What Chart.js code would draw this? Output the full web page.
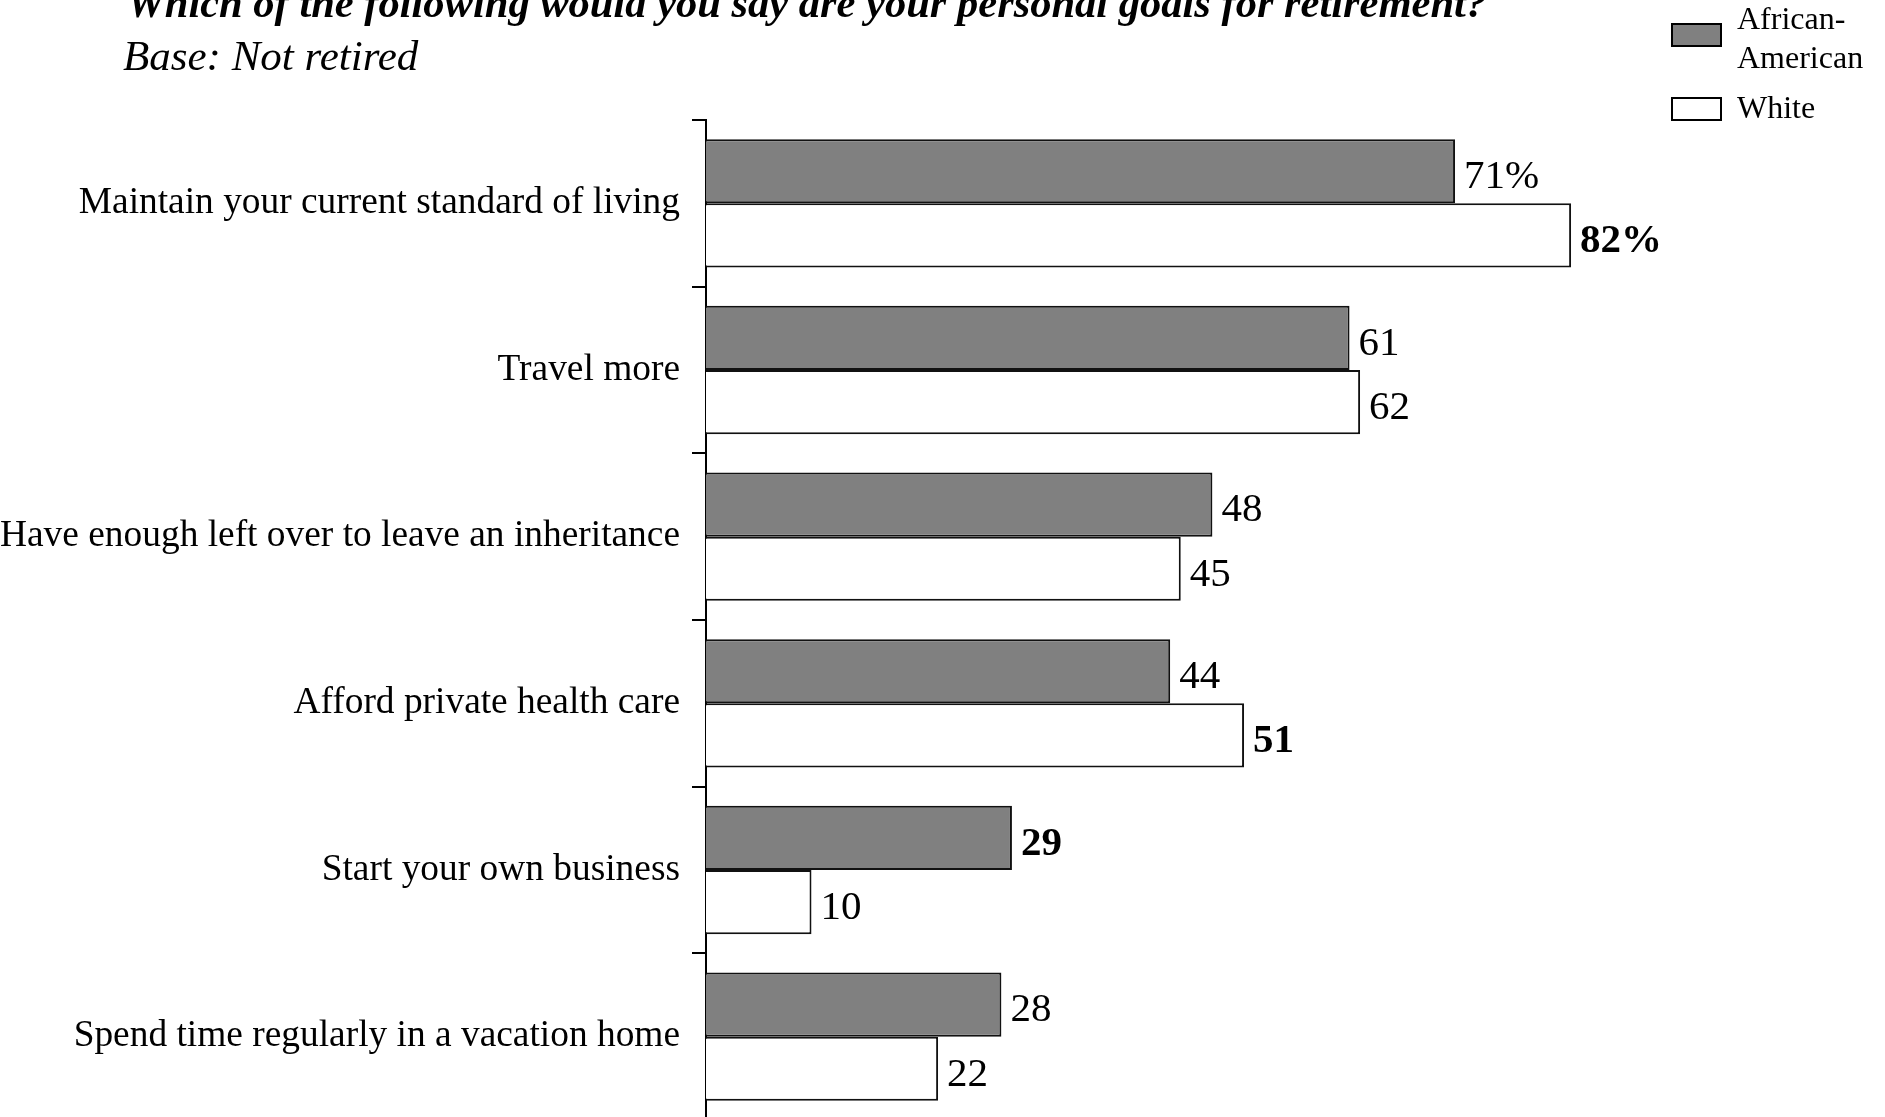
<!DOCTYPE html>
<html>
<head>
<meta charset="utf-8">
<script src="https://cdn.jsdelivr.net/npm/chart.js"></script>
<style>
    html, body { margin: 0; padding: 0; background: #fff; overflow: hidden; }
    #wrap { position: relative; width: 1885px; height: 1117px; overflow: hidden; }
    #goalsChart { position: absolute; left: 0; top: 0; }
    .txt { position: absolute; font-family: "Liberation Serif", "Times New Roman", serif; white-space: nowrap; color: #000; }
    .title { left: 127px; font-size: 42.5px; line-height: 40px; font-style: italic; }
    .legend-box { position: absolute; left: 1671px; width: 51px; height: 24px; box-sizing: border-box; border: 2px solid #000; }
    .legend-txt { left: 1737px; font-size: 32px; line-height: 38.5px; }
</style>
</head>
<body>
<div id="wrap">
    <canvas id="goalsChart" width="1885" height="1160"></canvas>
    <div class="txt title" style="top:-17.5px; font-weight:bold;" id="question"></div>
    <div class="txt title" style="top:35.5px; left:123px; font-size:43px;" id="base"></div>
    <div id="legend"></div>
</div>
<script>
// 質問とベース
const questionText = 'Which of the following would you say are your personal goals for retirement?';
const baseText = 'Base: Not retired';

// カテゴリ
const goals = [
    'Maintain your current standard of living',
    'Travel more',
    'Have enough left over to leave an inheritance',
    'Afford private health care',
    'Start your own business',
    'Spend time regularly in a vacation home'
];

// 系列（%）
const africanAmerican = [71, 61, 48, 44, 29, 28];
const white = [82, 62, 45, 51, 10, 22];

// 有意差のある値（太字で表示）
const sigAfricanAmerican = [false, false, false, false, true, false];
const sigWhite = [true, false, false, true, false, false];

const seriesNames = [['African-', 'American'], ['White']];

const serif = '"Liberation Serif", "Times New Roman", serif';

document.getElementById('question').textContent = questionText;
document.getElementById('base').textContent = baseText;

// 凡例（HTML）
function buildLegend() {
    const legend = document.getElementById('legend');
    const boxes = [{ top: 23, fill: '#808080' }, { top: 97, fill: '#ffffff' }];
    const textTops = [-1, 88];
    seriesNames.forEach((lines, i) => {
        const box = document.createElement('div');
        box.className = 'legend-box';
        box.style.top = boxes[i].top + 'px';
        box.style.background = boxes[i].fill;
        legend.appendChild(box);
        const t = document.createElement('div');
        t.className = 'txt legend-txt';
        t.style.top = textTops[i] + 'px';
        t.innerHTML = lines.join('<br>');
        legend.appendChild(t);
    });
}
buildLegend();

// 値ラベルを描くプラグイン
const valueLabels = {
    id: 'valueLabels',
    afterDatasetsDraw(chart) {
        const ctx = chart.ctx;
        const sig = [sigAfricanAmerican, sigWhite];
        ctx.save();
        ctx.fillStyle = '#000';
        ctx.textAlign = 'left';
        ctx.textBaseline = 'middle';
        chart.data.datasets.forEach((ds, di) => {
            const meta = chart.getDatasetMeta(di);
            meta.data.forEach((bar, i) => {
                const text = ds.data[i] + (i === 0 ? '%' : '');
                ctx.font = (sig[di][i] ? 'bold ' : '') + '41px ' + serif;
                ctx.fillText(text, bar.x + 9, bar.y + 6);
            });
        });
        ctx.restore();
    }
};

const ctx = document.getElementById('goalsChart').getContext('2d');
new Chart(ctx, {
    type: 'bar',
    data: {
        labels: goals,
        datasets: [{
            label: seriesNames[0].join(''),
            data: africanAmerican,
            backgroundColor: '#808080',
            borderColor: '#111',
            borderWidth: 2,
            barPercentage: 1,
            categoryPercentage: 0.77
        }, {
            label: seriesNames[1].join(''),
            data: white,
            backgroundColor: '#ffffff',
            borderColor: '#111',
            borderWidth: 2,
            barPercentage: 1,
            categoryPercentage: 0.77
        }]
    },
    options: {
        indexAxis: 'y',
        responsive: false,
        animation: false,
        layout: {
            // 下端の軸は画面の外まで伸びる
            padding: { top: 120, bottom: 40, left: 0, right: 124 }
        },
        plugins: {
            legend: { display: false },
            tooltip: { enabled: false }
        },
        scales: {
            x: {
                display: false,
                min: 0,
                max: 100
            },
            y: {
                afterFit(scale) { scale.width = 706; },
                border: { display: true, color: '#000', width: 2 },
                grid: {
                    offset: true,
                    drawOnChartArea: false,
                    drawTicks: true,
                    tickLength: 14,
                    color: '#000',
                    lineWidth: 2
                },
                ticks: {
                    color: '#000',
                    padding: 12,
                    font: { family: serif, size: 37.4 }
                }
            }
        }
    },
    plugins: [valueLabels]
});
</script>
</body>
</html>
